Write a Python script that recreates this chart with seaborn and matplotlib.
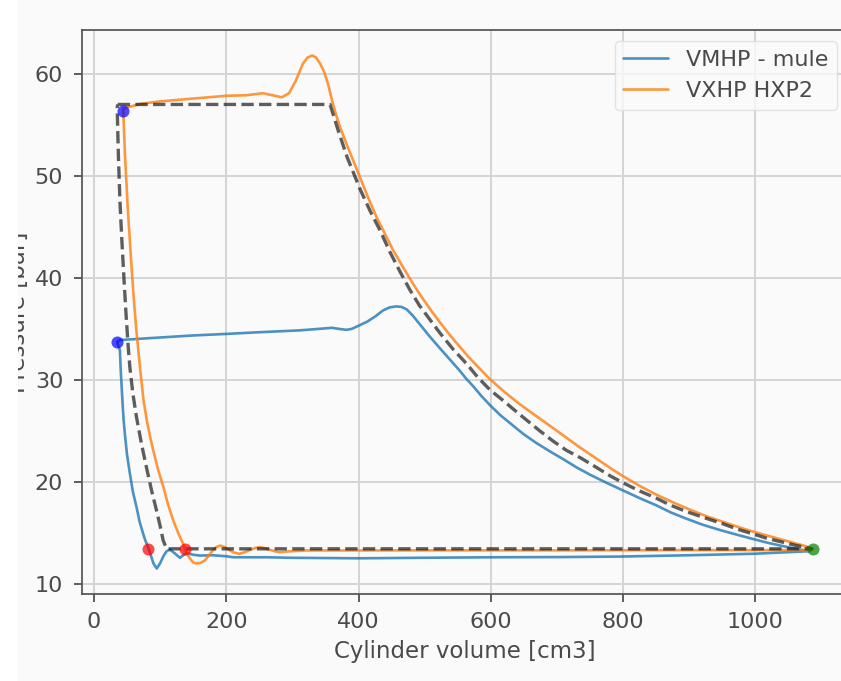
import numpy as np
import pandas as pd
import seaborn as sns
import matplotlib
matplotlib.use("Agg")
import matplotlib.pyplot as plt
from matplotlib.patches import Rectangle

# VMHP - mule, loop order: top-left -> across top -> expansion -> bottom -> back up
mule_vol = [35.2, 39, 100, 150, 200, 251, 311, 341, 360, 370, 382, 390, 400, 413, 425,
            437, 447, 457, 465, 473, 482, 492, 507, 523, 538, 553, 563, 573, 586, 599,
            615, 632, 649, 669, 689, 710, 730, 750, 775, 800, 825, 850, 872, 895, 920,
            945, 970, 996, 1020, 1045, 1072, 1082,
            1000, 900, 795, 700, 600, 492, 400, 300, 261, 211, 200, 180, 160, 150,
            140, 135, 130, 122, 115, 110, 105, 100, 95, 90, 86, 82, 78, 74.5,
            69, 64.5, 59, 54.4, 50, 46.8, 45, 43.5, 41.7, 40.5, 39.3, 35.2]
mule_p = [33.7, 33.9, 34.15, 34.35, 34.5, 34.67, 34.85, 35.0, 35.1, 35.0, 34.9, 35.0, 35.3, 35.7, 36.2,
          36.8, 37.1, 37.2, 37.15, 36.9, 36.3, 35.5, 34.3, 33.1, 32.0, 30.9, 30.1, 29.4, 28.4, 27.5,
          26.5, 25.6, 24.7, 23.8, 23.0, 22.2, 21.4, 20.7, 19.9, 19.15, 18.4, 17.7, 17.0, 16.4, 15.8,
          15.3, 14.85, 14.4, 14.0, 13.65, 13.3, 13.2,
          12.95, 12.8, 12.67, 12.62, 12.6, 12.55, 12.5, 12.55, 12.6, 12.6, 12.7, 12.8, 12.77, 12.85,
          13.0, 12.8, 12.55, 13.0, 13.35, 13.2, 12.7, 12.0, 11.5, 12.0, 12.8, 13.6, 14.2, 14.9,
          16.1, 17.5, 19.0, 20.8, 22.7, 24.7, 26.0, 27.5, 29.6, 31.0, 32.9, 33.7]

# VXHP HXP2
hxp2_vol = [44.3, 70, 100, 145, 200, 230, 256, 270, 284, 295, 305, 316, 323, 330, 336,
            342, 348, 354, 360, 366, 372, 382, 392, 402, 414, 427, 440, 452, 465, 477,
            490, 500, 512, 523, 538, 553, 565, 575, 587, 599, 620, 640, 660, 674, 687,
            700, 717, 734, 750, 767, 783, 800, 825, 850, 875, 900, 925, 950, 975, 1000,
            1025, 1050, 1070, 1087,
            1085, 900, 700, 500, 400, 321, 300, 290, 281, 273, 265, 258, 251, 243, 235,
            228, 220, 212, 205, 198, 191, 185, 180, 174, 168, 161, 155, 150, 145, 141,
            137.4, 135, 128, 120, 112, 105, 97, 90, 85, 80, 75, 70, 67, 64,
            60, 57, 55, 53, 51, 49.3, 47, 45.5, 44.3]
hxp2_p = [56.6, 57.05, 57.3, 57.55, 57.85, 57.9, 58.1, 57.9, 57.7, 58.1, 59.3, 61.0, 61.6, 61.8, 61.6,
          61.0, 60.2, 59.0, 57.4, 56.0, 54.8, 53.1, 51.5, 49.9, 47.95, 46.0, 44.3, 42.75, 41.3, 40.0,
          38.65, 37.7, 36.6, 35.65, 34.4, 33.25, 32.35, 31.65, 30.85, 30.05, 28.85, 27.8, 26.85, 26.2, 25.6,
          25.0, 24.2, 23.4, 22.7, 21.95, 21.25, 20.55, 19.6, 18.75, 18.0, 17.3, 16.65, 16.1, 15.55, 15.05,
          14.6, 14.15, 13.8, 13.45,
          13.3, 13.3, 13.28, 13.28, 13.27, 13.27, 13.2, 13.15, 13.1, 13.2, 13.35, 13.5, 13.6, 13.5, 13.3,
          13.1, 12.94, 13.05, 13.3, 13.6, 13.75, 13.6, 13.3, 12.8, 12.3, 12.05, 12.0, 12.1, 12.5, 12.9,
          13.43, 13.9, 14.9, 16.2, 17.8, 19.5, 21.2, 23.0, 24.4, 26.0, 28.0, 31.0, 33.0, 35.0,
          38.2, 41.0, 43.0, 45.0, 47.0, 49.2, 52.0, 54.5, 56.4]

# ideal cycle (dashed)
ideal_vol = [36, 357, 370, 383, 393, 403, 418, 433, 447, 462, 477, 492, 508, 523, 543,
             563, 581, 599, 620, 640, 657, 674, 694, 714, 737, 760, 780, 800, 825, 850,
             872, 895, 922, 950, 973, 996, 1018, 1040, 1062, 1085,
             110, 104.7, 100, 94.6, 87, 79.5, 72, 64.5, 59, 54.4, 51.9, 48.5, 45.3, 42,
             39.3, 37, 35.2, 36]
ideal_p = [57.0, 57.0, 54.3, 51.8, 50.2, 48.6, 46.5, 44.6, 42.6, 40.7, 38.9, 37.3, 35.9, 34.6, 33.0,
           31.6, 30.2, 29.0, 27.9, 26.8, 25.9, 25.0, 24.0, 23.1, 22.3, 21.4, 20.6, 19.9, 19.1, 18.4,
           17.7, 17.1, 16.5, 15.9, 15.35, 14.9, 14.45, 14.1, 13.75, 13.43,
           13.43, 14.25, 15.7, 17.2, 19.2, 21.4, 23.7, 26.3, 28.6, 31.2, 33.2, 36.5, 40.06, 44.0,
           47.6, 52.0, 56.7, 57.0]

# state points
blue_pts_vol = [35.2, 44.3]
blue_pts_p = [33.7, 56.4]
red_pts_vol = [82, 137.4]
red_pts_p = [13.43, 13.43]
green_pts_vol = [1086.6]
green_pts_p = [13.43]

sns.set_theme(style="ticks", context="notebook")
txt = "#4a4a4a"
plt.rcParams.update({
    "figure.facecolor": "#fafafa",
    "axes.facecolor": "#fafafa",
    "axes.edgecolor": "#5a5a5a",
    "axes.linewidth": 1.3,
    "text.color": txt,
    "axes.labelcolor": txt,
    "xtick.color": txt,
    "ytick.color": txt,
    "xtick.major.size": 6,
    "ytick.major.size": 6,
    "xtick.major.pad": 7,
    "ytick.major.pad": 7.5,
    "font.size": 16,
})
plt.rcParams["font.family"] = ["DejaVu Sans"]

fig = plt.figure(figsize=(8.41, 6.81), dpi=100)
ax = fig.add_axes([82 / 841, 1 - 594 / 681, 766 / 841, 564 / 681])

mule = pd.DataFrame({"vol": mule_vol, "p": mule_p})
hxp2 = pd.DataFrame({"vol": hxp2_vol, "p": hxp2_p})
ideal = pd.DataFrame({"vol": ideal_vol, "p": ideal_p})

sns.lineplot(data=mule, x="vol", y="p", sort=False, estimator=None, color="tab:blue",
             alpha=0.8, lw=1.9, label="VMHP - mule", ax=ax)
sns.lineplot(data=hxp2, x="vol", y="p", sort=False, estimator=None, color="tab:orange",
             alpha=0.8, lw=1.9, label="VXHP HXP2", ax=ax)
sns.lineplot(data=ideal, x="vol", y="p", sort=False, estimator=None, color="k",
             alpha=0.7, lw=2.4, linestyle="--", ax=ax)

sns.scatterplot(x=blue_pts_vol, y=blue_pts_p, color="#0000ff", alpha=0.7, s=75, linewidth=0, ax=ax, zorder=5)
sns.scatterplot(x=red_pts_vol, y=red_pts_p, color="#ff0000", alpha=0.7, s=75, linewidth=0, ax=ax, zorder=5)
sns.scatterplot(x=green_pts_vol, y=green_pts_p, color="#008000", alpha=0.7, s=75, linewidth=0, ax=ax, zorder=5)

ax.set_xlim(-18, 1140)
ax.set_ylim(9.0, 64.3)
ax.set_xticks([0, 200, 400, 600, 800, 1000])
ax.set_yticks([10, 20, 30, 40, 50, 60])
ax.tick_params(labelsize=16)
ax.grid(True, color="#d4d4d4", lw=1.4)
ax.set_axisbelow(True)
ax.spines["right"].set_visible(False)

ax.set_xlabel("Cylinder volume [cm3]", fontsize=16.5, labelpad=6)
ax.set_ylabel("Pressure [bar]", fontsize=16.5)
ax.yaxis.set_label_coords((30 - 82) / 766, 0.5)

leg = ax.legend(loc="upper right", fontsize=16, frameon=True, borderaxespad=0.5)
leg.get_frame().set_edgecolor("#dddddd")
leg.get_frame().set_facecolor("#fafafa")

# white strip on the left edge, like the cropped screenshot
fig.patches.append(Rectangle((0, 0), 18 / 841, 1, transform=fig.transFigure,
                             facecolor="white", edgecolor="none", zorder=10))

fig.savefig("out.png", dpi=100, facecolor=fig.get_facecolor())
